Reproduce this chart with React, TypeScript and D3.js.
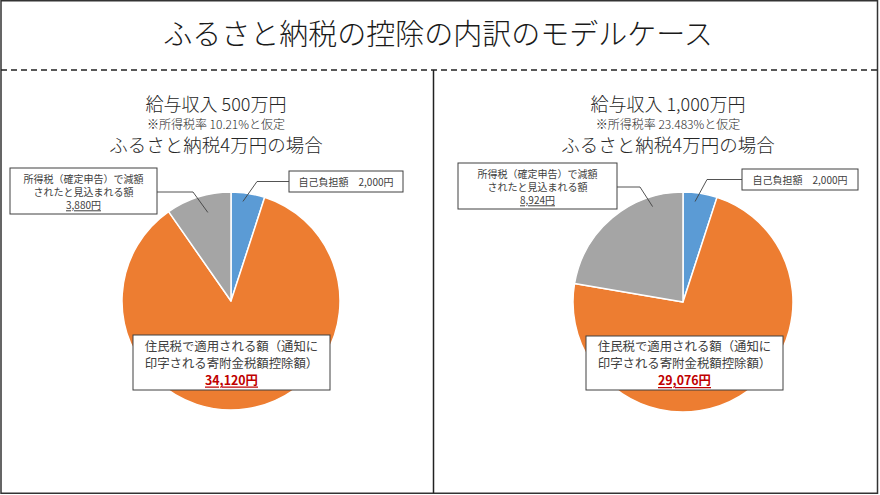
import React, { useEffect } from "react";
import * as d3 from "d3";

// ---------- data ----------
const categories = ["自己負担額", "住民税で適用される額", "所得税で減額されたと見込まれる額"];
const sliceColors = ["#5B9BD5", "#ED7D31", "#A5A5A5"];

const chartTitle = "ふるさと納税の控除の内訳のモデルケース";

const panelHeadings = ["給与収入 500万円", "給与収入 1,000万円"];
const panelNotes = ["※所得税率 10.21%と仮定", "※所得税率 23.483%と仮定"];
const panelSubHeadings = ["ふるさと納税4万円の場合", "ふるさと納税4万円の場合"];

const selfBurden = [2000, 2000];
const residentTax = [34120, 29076];
const incomeTax = [3880, 8924];

const selfLabel = "自己負担額　2,000円";
const incomeLabelLines = ["所得税（確定申告）で減額", "されたと見込まれる額"];
const incomeAmountLabels = ["3,880円", "8,924円"];
const residentLabelLines = ["住民税で適用される額（通知に", "印字される寄附金税額控除額）"];
const residentAmountLabels = ["34,120円", "29,076円"];

// ---------- layout ----------
const W = 880;
const H = 495;
const FONT = "'Noto Sans CJK JP', 'Noto Sans', sans-serif";

const panels = [
  {
    cx: 231, cy: 301, r: 109, tx: 216,
    blueBox: { x: 289, y: 171, w: 114, h: 21 },
    blueElbow: 257, blueT: 0.38, blueK: 0.92,
    grayBox: { x: 10, y: 168, w: 147, h: 46 },
    grayElbow: 193, grayLeadY: 192, grayT: 0.58, grayK: 0.84,
    bigBox: { x: 133, y: 335, w: 197, h: 55 },
  },
  {
    cx: 683, cy: 302, r: 110, tx: 668,
    blueBox: { x: 742, y: 169, w: 116, h: 21 },
    blueElbow: 707, blueT: 0.38, blueK: 0.92,
    grayBox: { x: 458, y: 163, w: 159, h: 46 },
    grayElbow: 640, grayLeadY: 187, grayT: 0.78, grayK: 0.91,
    bigBox: { x: 586, y: 336, w: 197, h: 54 },
  },
];

function polar(cx: number, cy: number, a: number, rr: number) {
  return [cx + rr * Math.sin(a), cy - rr * Math.cos(a)];
}

function Panel({ i }: { i: number }) {
  const p = panels[i];
  const values = [selfBurden[i], residentTax[i], incomeTax[i]];
  const pie = d3.pie<number>().sort(null).value((d) => d);
  const arcs = pie(values);
  const arcGen = d3.arc<d3.PieArcDatum<number>>().innerRadius(0).outerRadius(p.r);

  const blue = arcs[0];
  const gray = arcs[2];
  const bA = blue.startAngle + p.blueT * (blue.endAngle - blue.startAngle);
  const gA = gray.startAngle + p.grayT * (gray.endAngle - gray.startAngle);
  const [bx, by] = polar(p.cx, p.cy, bA, p.r * p.blueK);
  const [gx, gy] = polar(p.cx, p.cy, gA, p.r * p.grayK);

  const bb = p.blueBox;
  const gb = p.grayBox;
  const big = p.bigBox;
  const bLeadY = bb.y + bb.h / 2;
  const gcx = gb.x + gb.w / 2;
  const gcy = gb.y + gb.h / 2;
  const bigcx = big.x + big.w / 2;
  const bigcy = big.y + big.h / 2;

  return (
    <g>
      <text textAnchor="middle" dominantBaseline="central" fill="#262626" fontWeight={300}>
        <tspan x={p.tx} y={103} fontSize={18}>{panelHeadings[i]}</tspan>
        <tspan x={p.tx} y={123} fontSize={12}>{panelNotes[i]}</tspan>
        <tspan x={p.tx} y={143.5} fontSize={18.5}>{panelSubHeadings[i]}</tspan>
      </text>

      <g transform={`translate(${p.cx},${p.cy})`}>
        {arcs.map((a, k) => (
          <path key={categories[k]} d={arcGen(a) || ""} fill={sliceColors[k]} stroke="#fff" strokeWidth={1.5} strokeLinejoin="round" />
        ))}
      </g>

      {/* leader lines */}
      <polyline points={`${bb.x},${bLeadY} ${p.blueElbow},${bLeadY} ${bx},${by}`} fill="none" stroke="#404040" strokeWidth={0.9} />
      <polyline points={`${gb.x + gb.w},${p.grayLeadY} ${p.grayElbow},${p.grayLeadY} ${gx},${gy}`} fill="none" stroke="#404040" strokeWidth={0.9} />

      {/* blue callout */}
      <rect x={bb.x} y={bb.y} width={bb.w} height={bb.h} fill="#fff" stroke="#404040" strokeWidth={1} />
      <text x={bb.x + bb.w / 2} y={bLeadY} textAnchor="middle" dominantBaseline="central" fontSize={10} fill="#404040">
        {selfLabel}
      </text>

      {/* gray callout */}
      <rect x={gb.x} y={gb.y} width={gb.w} height={gb.h} fill="#fff" stroke="#404040" strokeWidth={1} />
      <text textAnchor="middle" dominantBaseline="central" fontSize={10} fill="#404040">
        <tspan x={gcx} y={gcy - 13.3}>{incomeLabelLines[0]}</tspan>
        <tspan x={gcx} y={gcy}>{incomeLabelLines[1]}</tspan>
        <tspan x={gcx} y={gcy + 13.3} textDecoration="underline">{incomeAmountLabels[i]}</tspan>
      </text>

      {/* big callout */}
      <rect x={big.x} y={big.y} width={big.w} height={big.h} fill="#fff" stroke="#404040" strokeWidth={1} />
      <text textAnchor="middle" dominantBaseline="central" fontSize={12.4} fill="#404040">
        <tspan x={bigcx} y={bigcy - 17}>{residentLabelLines[0]}</tspan>
        <tspan x={bigcx} y={bigcy}>{residentLabelLines[1]}</tspan>
        <tspan x={bigcx} y={bigcy + 17} fontWeight={700} fill="#C00000" textDecoration="underline">{residentAmountLabels[i]}</tspan>
      </text>
    </g>
  );
}

export default function App() {
  useEffect(() => {
    document.body.style.margin = "0";
  }, []);
  return (
    <svg width={W} height={H} viewBox={`0 0 ${W} ${H}`} style={{ display: "block", position: "fixed", left: 0, top: 0, background: "#fff" }} fontFamily={FONT}>
      <rect x={0} y={0} width={W} height={H} fill="#fff" />
      <rect x={1} y={0.75} width={876.5} height={492.5} fill="none" stroke="#333" strokeWidth={1.5} />
      <text x={438} y={32} textAnchor="middle" dominantBaseline="central" fontSize={29} fontWeight={300} fill="#1a1a1a">
        {chartTitle}
      </text>
      <line x1={1} x2={877.5} y1={70} y2={70} stroke="#222" strokeWidth={1.6} strokeDasharray="6,4" />
      <line x1={433.5} x2={433.5} y1={70} y2={493} stroke="#222" strokeWidth={1.5} />
      <Panel i={0} />
      <Panel i={1} />
    </svg>
  );
}
